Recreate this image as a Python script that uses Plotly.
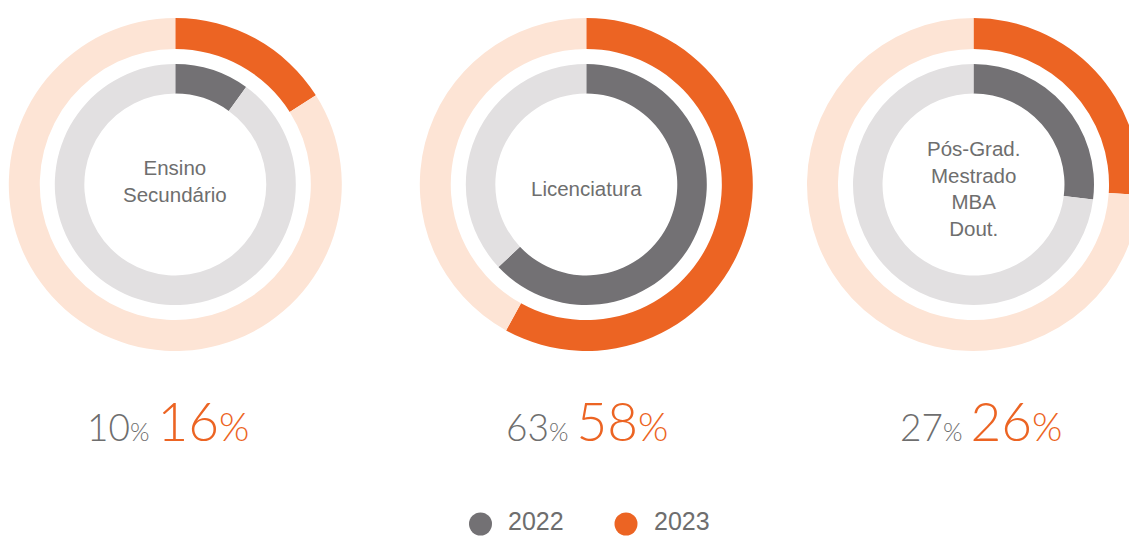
import plotly.graph_objects as go

# ---------------- data ----------------
categories = ["Ensino<br>Secundário", "Licenciatura", "Pós-Grad.<br>Mestrado<br>MBA<br>Dout."]
years = ["2022", "2023"]
values_2022 = [10, 63, 27]
values_2023 = [16, 58, 26]

# ---------------- styling ----------------
W, H = 1141, 536
ORANGE = "#EC6423"
PEACH = "#FDE4D5"
DARK_GRAY = "#737174"
LIGHT_GRAY = "#E2E0E1"
TEXT_GRAY = "#6E6E6E"

centers_x = [175.3, 586.3, 973.5]
cy = 184.5
R_OUT, R_IN = 166.5, 120.5
HOLE_OUT, HOLE_IN = 0.814, 0.755
label_y = [181, 188, 188]
pct_x = [167.5, 586.7, 980.5]
pct_y = 420


def dom(cx, r):
    return dict(x=[(cx - r) / W, (cx + r) / W],
                y=[(H - cy - r) / H, (H - cy + r) / H])


fig = go.Figure()
for i, cat in enumerate(categories):
    cx = centers_x[i]
    fig.add_trace(go.Pie(
        values=[values_2023[i], 100 - values_2023[i]],
        labels=["2023", "resto"],
        marker=dict(colors=[ORANGE, PEACH], line=dict(width=0)),
        hole=HOLE_OUT, sort=False, direction="clockwise", rotation=0,
        textinfo="none", hoverinfo="skip", showlegend=False,
        domain=dom(cx, R_OUT),
    ))
    fig.add_trace(go.Pie(
        values=[values_2022[i], 100 - values_2022[i]],
        labels=["2022", "resto"],
        marker=dict(colors=[DARK_GRAY, LIGHT_GRAY], line=dict(width=0)),
        hole=HOLE_IN, sort=False, direction="clockwise", rotation=0,
        textinfo="none", hoverinfo="skip", showlegend=False,
        domain=dom(cx, R_IN),
    ))

annotations = []
for i, cat in enumerate(categories):
    annotations.append(dict(
        text=cat, x=centers_x[i] / W, y=(H - label_y[i]) / H,
        xref="paper", yref="paper", xanchor="center", yanchor="middle",
        showarrow=False, align="center",
        font=dict(family="Liberation Sans, Arial, sans-serif", size=20.5, color=TEXT_GRAY),
    ))
    txt = (f"<span style='color:{TEXT_GRAY};font-size:37px'>{values_2022[i]}</span>"
           f"<span style='color:{TEXT_GRAY};font-size:25px'>%</span> "
           f"<span style='color:{ORANGE};font-size:53px'>{values_2023[i]}</span>"
           f"<span style='color:{ORANGE};font-size:39px'>%</span>")
    annotations.append(dict(
        text=txt, x=pct_x[i] / W, y=(H - pct_y) / H,
        xref="paper", yref="paper", xanchor="center", yanchor="middle",
        showarrow=False,
        font=dict(family="Lato, sans-serif", size=30, color=TEXT_GRAY, weight=300),
    ))

# legend
legend_cx = [480.5, 626]
legend_cols = [DARK_GRAY, ORANGE]
legend_cy = 524
shapes = []
for j, yr in enumerate(years):
    shapes.append(dict(
        type="circle", xref="paper", yref="paper",
        x0=(legend_cx[j] - 11.5) / W, x1=(legend_cx[j] + 11.5) / W,
        y0=(H - legend_cy - 11.5) / H, y1=(H - legend_cy + 11.5) / H,
        fillcolor=legend_cols[j], line=dict(width=0),
    ))
    annotations.append(dict(
        text=yr, x=(legend_cx[j] + 26.5) / W, y=0,
        xref="paper", yref="paper", xanchor="left", yanchor="bottom",
        showarrow=False, borderpad=0,
        font=dict(family="Liberation Sans, Arial, sans-serif", size=25, color=TEXT_GRAY),
    ))

fig.update_layout(
    width=W, height=H, autosize=False,
    margin=dict(l=0, r=0, t=0, b=0),
    paper_bgcolor="white", plot_bgcolor="white",
    showlegend=False,
    annotations=annotations, shapes=shapes,
)

fig.write_html(
    "out.html",
    post_script="document.body.style.margin='0';document.body.style.overflow='hidden';",
)
